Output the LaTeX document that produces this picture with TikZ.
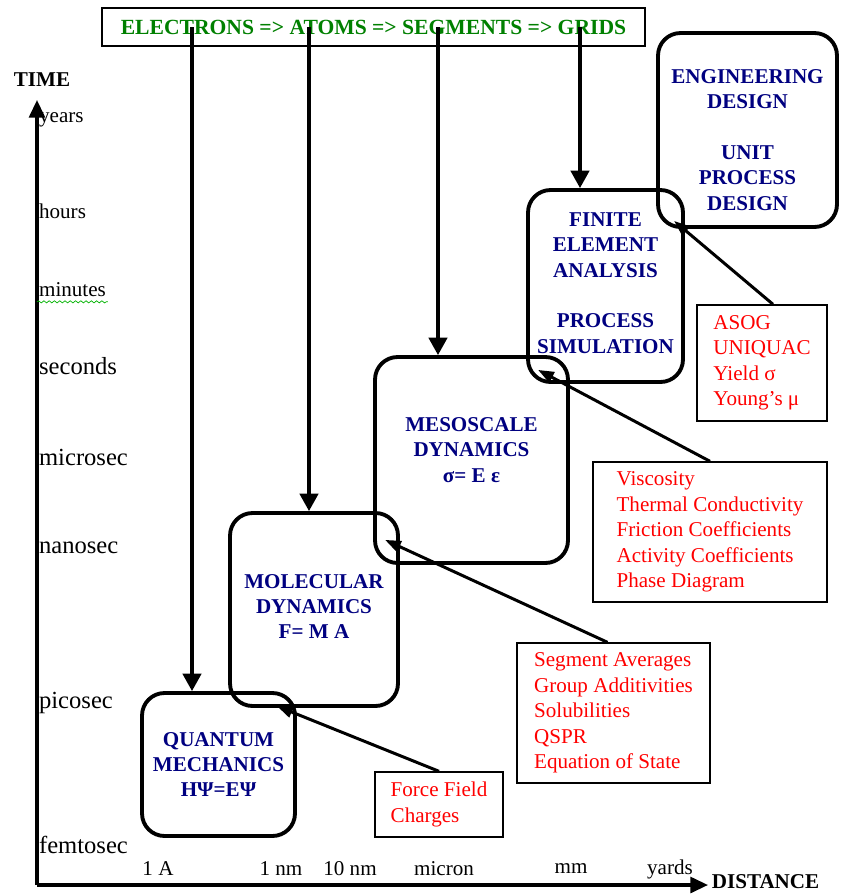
\documentclass[12pt,tikz,border=0pt]{standalone}
\usepackage{fontspec}
\setmainfont{Liberation Serif}
\usetikzlibrary{positioning,arrows.meta,calc,decorations.pathmorphing}
\definecolor{navyblue}{RGB}{0,0,128}
\definecolor{scalegreen}{RGB}{0,128,0}
\definecolor{propred}{RGB}{255,0,0}
\tikzset{
stage/.style={draw,rounded corners=0.45cm,line width=2.2pt},
stagetext/.style={align=center,text=navyblue,font=\bfseries},
prop/.style={draw,line width=0.8pt,align=left,text=propred},
scalebar/.style={draw,line width=1pt,text=scalegreen,font=\bfseries},
tick/.style={inner sep=1pt,anchor=west},
bigtick/.style={tick,font=\fontsize{14}{16}\selectfont},
axis/.style={-{Triangle[length=10pt,width=9pt]},line width=1.8pt},
feed/.style={-{Triangle[length=10pt,width=10.5pt]},line width=2pt},
link/.style={-{Triangle[length=9pt,width=6.5pt]},line width=1.7pt},
squiggle/.style={green!70!black,decorate,
decoration={snake,amplitude=0.6pt,segment length=3pt}}
}

\begin{document}
\begin{tikzpicture}[x=0.02cm,y=-0.02cm]
\useasboundingbox (0,0) rectangle (840,896);

% axes
\coordinate (origin) at (37,885);
\coordinate (ttop) at (37,100);
\coordinate (dend) at (708,885);
\draw[axis] (origin) -- (ttop);
\draw[axis] (origin) -- (dend);
\node[font=\bfseries] (time) at (42,80) {TIME};
\node[font=\bfseries,anchor=west,inner sep=2pt] (dist) at (708,882) {DISTANCE};

\node[tick] (years) at (37,120) {years};
\node[tick] (hours) at (37,211) {hours};
\node[tick] (minutes) at (37,290) {minutes};
\node[bigtick] (seconds) at (37,366) {seconds};
\node[bigtick] (microsec) at (37,457) {microsec};
\node[bigtick] (nanosec) at (37,548) {nanosec};
\node[bigtick] (picosec) at (37,703) {picosec};
\node[bigtick] (femtosec) at (37,845) {femtosec};
\draw[squiggle] ([yshift=-1.5pt]minutes.south west) -- ([yshift=-1.5pt]minutes.south east);

\node (ang) at (158,869) {1 A};
\node (nm) at (281,869) {1 nm};
\node (tennm) at (350,869) {10 nm};
\node (micron) at (444,869) {micron};
\node (mm) at (571,869) {mm};
\node (yards) at (670,869) {yards};

% length scales
\node[scalebar,minimum width=10.86cm,minimum height=0.76cm] (scales) at (373.5,27)
  {\fontsize{12.3}{14.5}\selectfont ELECTRONS => ATOMS => SEGMENTS => GRIDS};

\node[stage,minimum width=3.06cm,minimum height=2.86cm,
  label={[stagetext]center:{QUANTUM\\MECHANICS\\HΨ=EΨ}}] (qm) at (218.5,764.5) {};
\node[stage,minimum width=3.36cm,minimum height=3.86cm,
  label={[stagetext,yshift=0.06cm]center:{MOLECULAR\\DYNAMICS\\F= M A}}] (md) at (314,609.5) {};
\node[stage,minimum width=3.86cm,minimum height=4.12cm,
  label={[stagetext,yshift=0.2cm]center:{MESOSCALE\\DYNAMICS\\σ= E ε}}] (meso) at (471.5,460) {};
\node[stage,minimum width=3.1cm,minimum height=3.84cm,
  label={[stagetext,yshift=0.06cm]center:{FINITE\\ELEMENT\\ANALYSIS\\[14.2pt]PROCESS\\SIMULATION}}] (fea) at (605.5,286) {};
\node[stage,minimum width=3.58cm,minimum height=3.88cm,
  label={[stagetext,yshift=-0.2cm]center:{ENGINEERING\\DESIGN\\[14.2pt]UNIT\\PROCESS\\DESIGN}}] (eng) at (747.5,130) {};

% properties passed up
\node[prop,minimum width=2.56cm,minimum height=1.3cm] (ff) at (439,804.5)
  {Force Field\\Charges};
\node[prop,minimum width=3.86cm,minimum height=2.8cm] (seg) at (613.5,713)
  {Segment Averages\\Group Additivities\\Solubilities\\QSPR\\Equation of State};
\node[prop,minimum width=4.68cm,minimum height=2.8cm] (visc) at (710,532)
  {Viscosity\\Thermal Conductivity\\Friction Coefficients\\Activity Coefficients\\Phase Diagram};
\node[prop,minimum width=2.6cm,minimum height=2.32cm] (asog) at (762,363)
  {ASOG\\UNIQUAC\\Yield σ\\Young's μ};

\coordinate (qmin) at ($(qm.north)+(-26.5,0)$);
\coordinate (mdin) at ($(md.north)+(-5,0)$);
\coordinate (mesoin) at ($(meso.north)+(-33.5,0)$);
\coordinate (feain) at ($(fea.north)+(-25.5,0)$);

\path[feed] (scales.center -| qmin) edge (qmin);
\path[feed] (scales.center -| mdin) edge (mdin);
\path[feed] (scales.center -| mesoin) edge (mesoin);
\path[feed] (scales.center -| feain) edge (feain);

\path[link] (ff.north) edge ($(qm.north east)+(-20,15)$);
\path[link] ($(seg.north)+(-6,0)$) edge ($(meso.south west)+(12,-25)$);
\path[link] (visc.north) edge ($(fea.south west)+(12,-14)$);
\path[link] ($(asog.north)+(11,0)$) edge ($(eng.south west)+(18,-8)$);

\end{tikzpicture}
\end{document}
